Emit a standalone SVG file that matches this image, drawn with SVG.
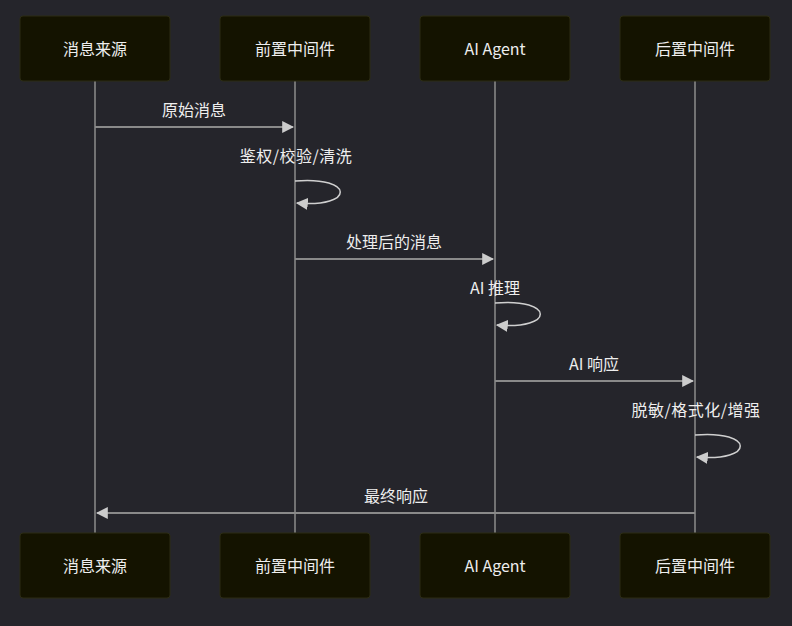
<svg xmlns="http://www.w3.org/2000/svg" width="792" height="626" viewBox="0 0 792 626">
<style>
.bg{fill:#25252b}
.actor{fill:#141300;stroke:#2c2c14;stroke-width:1}
.atext{font-family:"Noto Sans CJK SC","Liberation Sans",sans-serif;font-size:16px;fill:#eeeeee;text-anchor:middle;dominant-baseline:central}
.life{stroke:#8c8c8c;stroke-width:1.5}
.msg{stroke:#8a8a8a;stroke-width:2;fill:none}
.loop{stroke:#d0d0d0;stroke-width:1.5;fill:none}
.mtext{font-family:"Noto Sans CJK SC","Liberation Sans",sans-serif;font-size:16px;fill:#eeeeee;text-anchor:middle;dominant-baseline:central}
</style>
<defs>
<marker id="ah" viewBox="0 0 10 10" refX="9" refY="5" markerWidth="12" markerHeight="12" markerUnits="userSpaceOnUse" orient="auto">
<path d="M0,0 L10,5 L0,10 z" fill="#cccccc"/>
</marker>
</defs>
<rect class="bg" x="0" y="0" width="792" height="626"/>
<g id="lifelines">
<line class="life" x1="95" y1="81" x2="95" y2="533"/>
<line class="life" x1="295" y1="81" x2="295" y2="533"/>
<line class="life" x1="495" y1="81" x2="495" y2="533"/>
<line class="life" x1="695" y1="81" x2="695" y2="533"/>
</g>
<g id="actor-source-top"><rect class="actor" x="20" y="16" width="150" height="65" rx="3"/><text class="atext" x="95" y="48">消息来源</text></g>
<g id="actor-pre-top"><rect class="actor" x="220" y="16" width="150" height="65" rx="3"/><text class="atext" x="295" y="48">前置中间件</text></g>
<g id="actor-agent-top"><rect class="actor" x="420" y="16" width="150" height="65" rx="3"/><text class="atext" x="495" y="48">AI Agent</text></g>
<g id="actor-post-top"><rect class="actor" x="620" y="16" width="150" height="65" rx="3"/><text class="atext" x="695" y="48">后置中间件</text></g>
<g id="actor-source-bottom"><rect class="actor" x="20" y="533" width="150" height="65" rx="3"/><text class="atext" x="95" y="565">消息来源</text></g>
<g id="actor-pre-bottom"><rect class="actor" x="220" y="533" width="150" height="65" rx="3"/><text class="atext" x="295" y="565">前置中间件</text></g>
<g id="actor-agent-bottom"><rect class="actor" x="420" y="533" width="150" height="65" rx="3"/><text class="atext" x="495" y="565">AI Agent</text></g>
<g id="actor-post-bottom"><rect class="actor" x="620" y="533" width="150" height="65" rx="3"/><text class="atext" x="695" y="565">后置中间件</text></g>
<g id="connectors">
<line class="msg" x1="95" y1="127" x2="293" y2="127" marker-end="url(#ah)"/>
<text class="mtext" x="194" y="108.5">原始消息</text>
<path class="loop" d="M295,181 C355,176 355,208 297,203" marker-end="url(#ah)"/>
<text class="mtext" x="296" y="155" letter-spacing="0.5">鉴权/校验/清洗</text>
<line class="msg" x1="295" y1="259" x2="493" y2="259" marker-end="url(#ah)"/>
<text class="mtext" x="394" y="240.5">处理后的消息</text>
<path class="loop" d="M495,303 C555,298 555,330 497,325" marker-end="url(#ah)"/>
<text class="mtext" x="495" y="287">AI 推理</text>
<line class="msg" x1="495" y1="381" x2="693" y2="381" marker-end="url(#ah)"/>
<text class="mtext" x="594" y="362.5">AI 响应</text>
<path class="loop" d="M695,435 C755,430 755,462 697,457" marker-end="url(#ah)"/>
<text class="mtext" x="696" y="409" letter-spacing="0.5">脱敏/格式化/增强</text>
<line class="msg" x1="695" y1="513" x2="97" y2="513" marker-end="url(#ah)"/>
<text class="mtext" x="396" y="494.5">最终响应</text>
</g>
</svg>
